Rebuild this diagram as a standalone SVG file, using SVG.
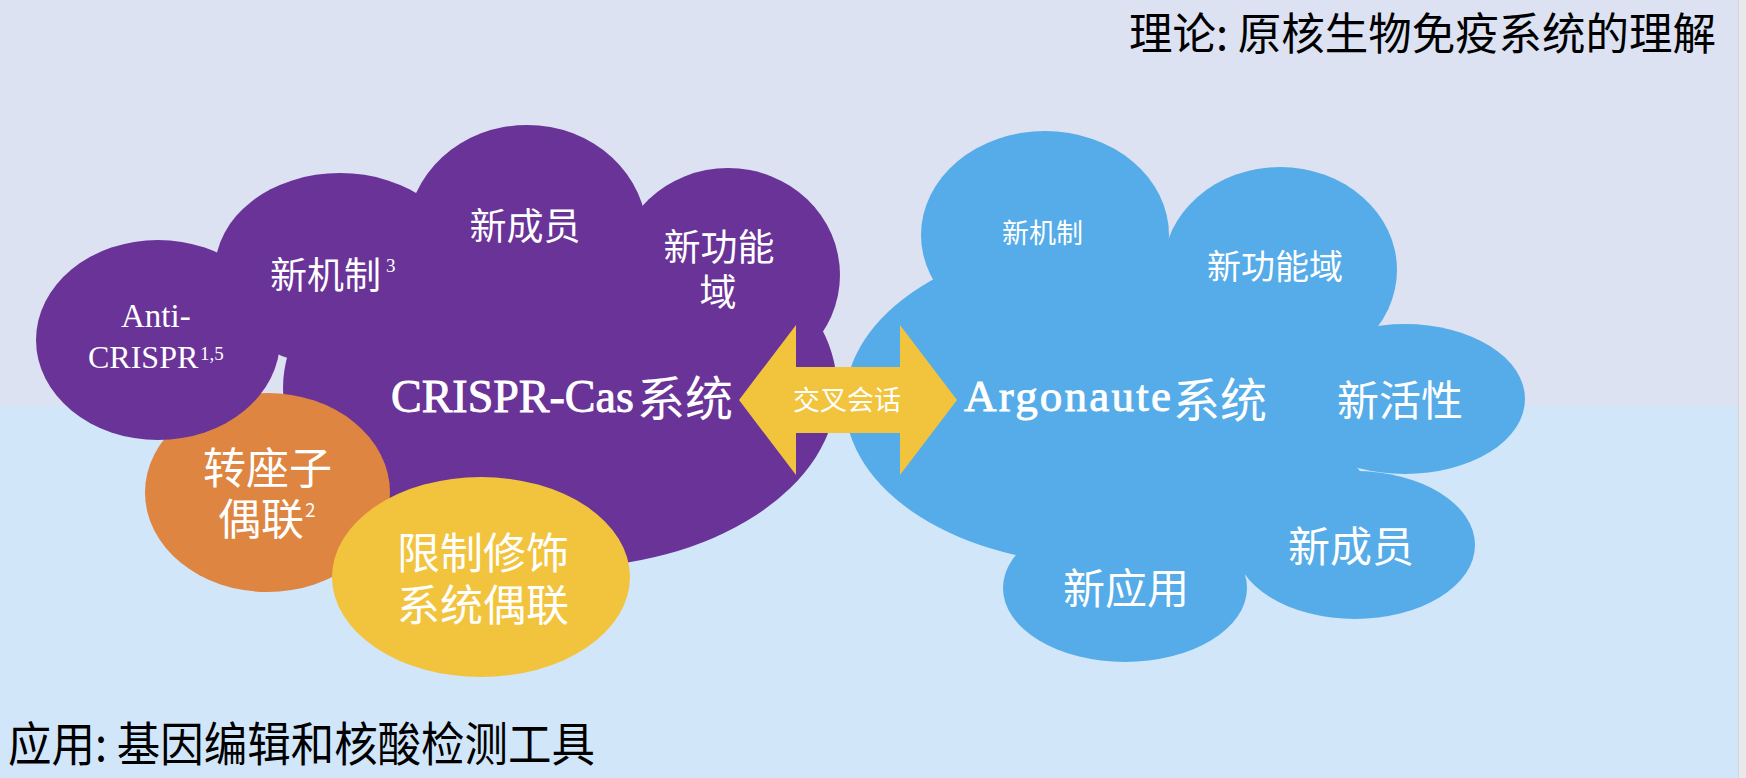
<svg xmlns="http://www.w3.org/2000/svg" width="1746" height="778" viewBox="0 0 1746 778">
<style>
.purple{fill:#693398}
.blue{fill:#55ace8}
.lbl{fill:#ffffff;font-family:"Liberation Serif","Noto Sans CJK SC",serif}
.big{stroke:#ffffff;stroke-width:0.9}
.cjk{fill:#ffffff;font-family:"Noto Sans CJK SC",sans-serif}
.hdr{fill:#000000;font-family:"Noto Sans CJK SC",sans-serif}
</style>
<rect x="0" y="0" width="1746" height="406" fill="#dce2f2"/>
<rect x="0" y="406" width="1746" height="372" fill="#d2e6fa"/>
<rect x="1738" y="0" width="8" height="778" fill="#e9e9ed"/>
<line x1="1738.5" y1="0" x2="1738.5" y2="778" stroke="#d4d4da" stroke-width="1"/>

<text class="hdr" x="1129" y="50" font-size="44" textLength="587" lengthAdjust="spacingAndGlyphs">理论: 原核生物免疫系统的理解</text>
<text class="hdr" x="8" y="761" font-size="47" textLength="587" lengthAdjust="spacingAndGlyphs">应用: 基因编辑和核酸检测工具</text>

<g id="crispr-cloud">
  <ellipse class="purple" cx="560" cy="388" rx="277" ry="180"/>
  <ellipse class="purple" cx="340" cy="270" rx="125" ry="97"/>
  <ellipse class="purple" cx="527" cy="235" rx="120" ry="110"/>
  <ellipse class="purple" cx="728" cy="275" rx="112" ry="107"/>
</g>
<g id="transposon">
  <ellipse cx="267.5" cy="492.5" rx="122.5" ry="99.5" fill="#de8541"/>
  <text class="cjk" font-size="43"><tspan x="203" y="484">转座子</tspan><tspan x="218" y="535">偶联</tspan><tspan x="305" y="517" font-size="19">2</tspan></text>
</g>
<g id="rm-system">
  <ellipse cx="481" cy="577" rx="149" ry="100" fill="#f2c33d"/>
  <text class="cjk" font-size="43"><tspan x="397" y="569">限制修饰</tspan><tspan x="397" y="621">系统偶联</tspan></text>
</g>
<g id="anti-crispr">
  <ellipse class="purple" cx="158" cy="340" rx="122" ry="100"/>
  <text class="lbl" font-size="33"><tspan x="121" y="327">Anti-</tspan><tspan x="88" y="368" font-size="32">CRISPR</tspan><tspan x="200" y="360" font-size="19">1,5</tspan></text>
</g>
<g id="crispr-labels">
  <text class="cjk" font-size="37"><tspan x="270" y="289">新机制</tspan><tspan class="lbl" x="386" y="272" font-size="19">3</tspan></text>
  <text class="cjk" x="525" y="240" font-size="37" text-anchor="middle">新成员</text>
  <text class="cjk" font-size="37" text-anchor="middle"><tspan x="719" y="261">新功能</tspan><tspan x="718" y="306">域</tspan></text>
  <text class="lbl big" x="391" y="412" font-size="46">CRISPR-Cas</text>
  <text class="cjk" x="637" y="416" font-size="48">系统</text>
</g>

<g id="argonaute-cloud">
  <ellipse class="blue" cx="1100" cy="402" rx="255" ry="162"/>
  <ellipse class="blue" cx="1240" cy="500" rx="130" ry="75"/>
  <ellipse class="blue" cx="1045" cy="235" rx="124" ry="104"/>
  <ellipse class="blue" cx="1280" cy="270" rx="117" ry="103"/>
  <ellipse class="blue" cx="1405" cy="399" rx="120" ry="75"/>
  <ellipse class="blue" cx="1355" cy="545" rx="120" ry="74"/>
  <ellipse class="blue" cx="1125" cy="588" rx="122" ry="74"/>
  <text class="cjk" x="1002" y="243" font-size="27">新机制</text>
  <text class="cjk" x="1207" y="279" font-size="34">新功能域</text>
  <text class="lbl big" x="964" y="411" font-size="45" textLength="207" lengthAdjust="spacing">Argonaute</text>
  <text class="cjk" x="1173" y="417" font-size="47">系统</text>
  <text class="cjk" x="1400" y="416" font-size="42" text-anchor="middle">新活性</text>
  <text class="cjk" x="1288" y="562" font-size="42">新成员</text>
  <text class="cjk" x="1063" y="604" font-size="42">新应用</text>
</g>

<g id="connectors">
  <polygon points="739,400 796,325 796,367 900,367 900,325 957,400 900,475 900,433 796,433 796,475" fill="#f2c33d"/>
  <text class="cjk" x="847" y="410" font-size="27" text-anchor="middle">交叉会话</text>
</g>
</svg>
